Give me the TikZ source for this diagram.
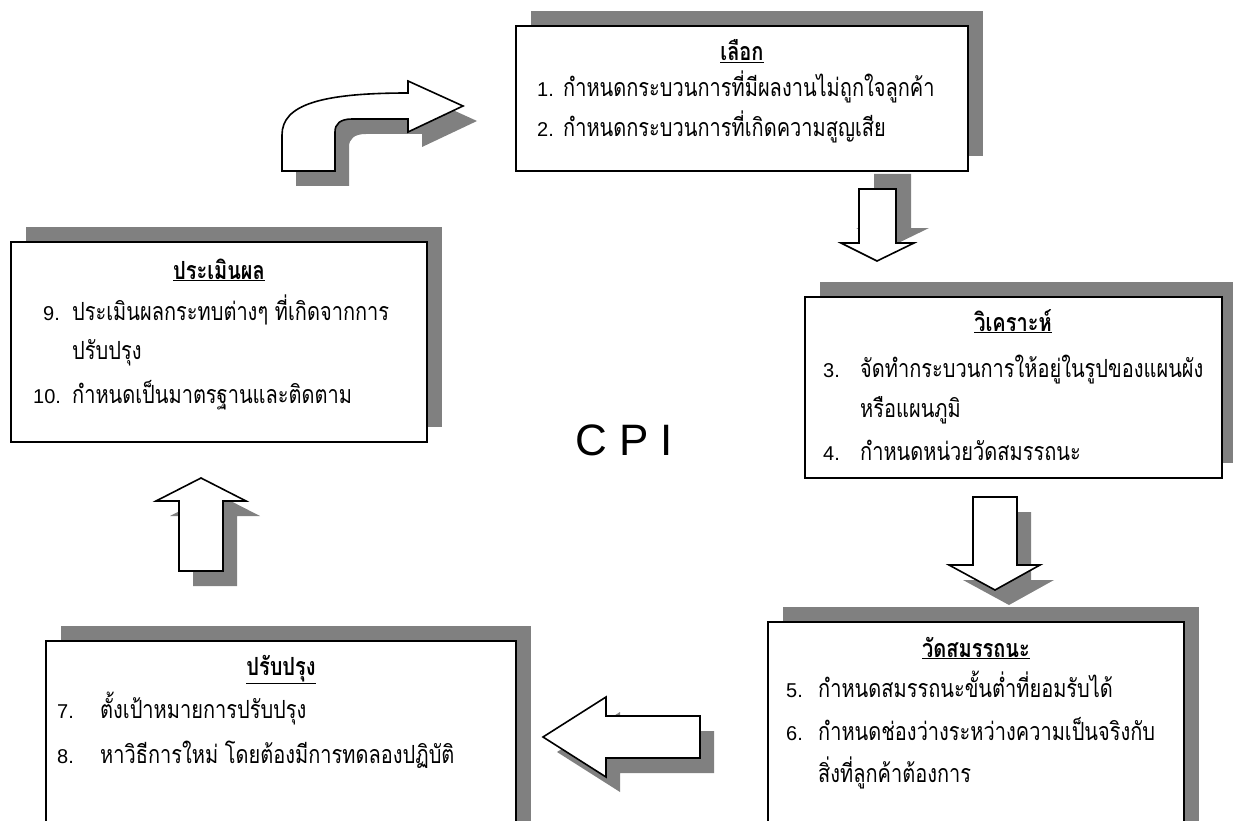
\documentclass[tikz,border=0pt]{standalone}
\usepackage{fontspec}
\setmainfont{Liberation Sans}
\newfontfamily\thaifont[Script=Thai,FakeStretch=0.8]{Loma}
\usetikzlibrary{shadows}
\definecolor{shade}{RGB}{128,128,128}

\begin{document}
\begin{tikzpicture}[x=1pt,y=-1pt,
  box/.style={rectangle,draw=black,line width=1.6pt,fill=white,inner sep=0pt,
    drop shadow={shadow xshift=15pt,shadow yshift=15pt,fill=shade,opacity=1}},
  blk/.style={draw=black,line width=1.6pt,fill=white,line join=miter},
  highshadow/.style={drop shadow={shadow xshift=15pt,shadow yshift=15pt,fill=shade,opacity=1}},
  lowshadow/.style={drop shadow={shadow xshift=14pt,shadow yshift=-15pt,fill=shade,opacity=1}},
  num/.style={anchor=base west,inner sep=0pt,font=\fontsize{20}{24}\selectfont},
  txt/.style={anchor=base west,inner sep=0pt,font=\thaifont\fontsize{25}{28}\selectfont},
  head/.style={anchor=base,inner sep=0pt,font=\thaifont\bfseries\fontsize{25}{28}\selectfont}]
  \useasboundingbox (0,0) rectangle (1233,821);
  \clip (0,0) rectangle (1233,821);
  % boxes:
  \node[box,minimum width=452pt,minimum height=145pt] (select) at (742,98.5) {};
  \node[box,minimum width=417pt,minimum height=181pt] (analyse) at (1013.5,387.5) {};
  \node[box,minimum width=416pt,minimum height=228pt] (measure) at (976,736) {};
  \node[box,minimum width=470pt,minimum height=209pt] (improve) at (281,745.5) {};
  \node[box,minimum width=416pt,minimum height=200pt] (evaluate) at (219,342) {};
  % block arrows:
  \draw[blk,lowshadow] (282,171) -- (282,135) .. controls (282,105) and (320,93) .. (408,93)
    -- (408,81) -- (463,106) -- (408,132) -- (408,119) -- (352,119)
    .. controls (340,119) and (335,124) .. (335,132) -- (335,171) -- cycle;
  \draw[blk,highshadow] (859,189) -- (896,189) -- (896,243) -- (914,243) -- (877,261)
    -- (841,243) -- (859,243) -- cycle;
  \draw[blk,lowshadow] (973,497) -- (1017,497) -- (1017,565) -- (1040,565) -- (995,590)
    -- (949,565) -- (973,565) -- cycle;
  \draw[blk,lowshadow] (700,716) -- (606,716) -- (606,697) -- (543,737) -- (606,777)
    -- (606,758) -- (700,758) -- cycle;
  \draw[blk,lowshadow] (179,571) -- (179,501) -- (156,501) -- (201,478) -- (246,501)
    -- (223,501) -- (223,571) -- cycle;
  % select:
  \node[head] (selecthead) at (742,61) {\underline{เลือก}};
  \node[num] (n1) at (537,97) {1.};
  \node[txt] (t1) at (563,97) {กำหนดกระบวนการที่มีผลงานไม่ถูกใจลูกค้า};
  \node[num] (n2) at (537,137) {2.};
  \node[txt] (t2) at (563,137) {กำหนดกระบวนการที่เกิดความสูญเสีย};
  % analyse:
  \node[head] (analysehead) at (1013,331) {\underline{วิเคราะห์}};
  \node[num] (n3) at (823,377) {3.};
  \node[txt] (t3) at (860,377) {จัดทำกระบวนการให้อยู่ในรูปของแผนผัง};
  \node[txt] (t3b) at (860,417) {หรือแผนภูมิ};
  \node[num] (n4) at (823,460) {4.};
  \node[txt] (t4) at (860,460) {กำหนดหน่วยวัดสมรรถนะ};
  % measure:
  \node[head] (measurehead) at (976,657) {\underline{วัดสมรรถนะ}};
  \node[num] (n5) at (786,697) {5.};
  \node[txt] (t5) at (818,697) {กำหนดสมรรถนะขั้นต่ำที่ยอมรับได้};
  \node[num] (n6) at (786,740) {6.};
  \node[txt] (t6) at (818,740) {กำหนดช่องว่างระหว่างความเป็นจริงกับ};
  \node[txt] (t6b) at (818,782) {สิ่งที่ลูกค้าต้องการ};
  % improve:
  \node[head] (improvehead) at (281,675) {\underline{ปรับปรุง}};
  \node[num] (n7) at (57,718) {7.};
  \node[txt] (t7) at (100,718) {ตั้งเป้าหมายการปรับปรุง};
  \node[num] (n8) at (57,763) {8.};
  \node[txt] (t8) at (100,763) {หาวิธีการใหม่ โดยต้องมีการทดลองปฏิบัติ};
  % evaluate:
  \node[head] (evaluatehead) at (219,279) {\underline{ประเมินผล}};
  \node[num] (n9) at (43,320) {9.};
  \node[txt] (t9) at (72,320) {ประเมินผลกระทบต่างๆ ที่เกิดจากการ};
  \node[txt] (t9b) at (72,359) {ปรับปรุง};
  \node[num] (n10) at (33,403) {10.};
  \node[txt] (t10) at (72,403) {กำหนดเป็นมาตรฐานและติดตาม};
  % centre:
  \node[font=\fontsize{44}{44}\selectfont] (cpi) at (624,440) {C P I};
\end{tikzpicture}
\end{document}
